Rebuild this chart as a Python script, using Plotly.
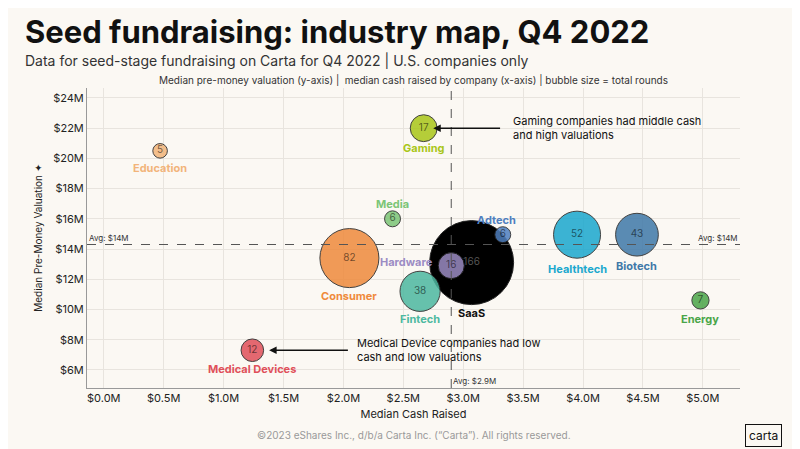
import plotly.graph_objects as go

industries = ["Education", "Gaming", "Media", "Adtech", "Healthtech", "Biotech",
              "Consumer", "Hardware", "SaaS", "Fintech", "Energy", "Medical Devices"]
cash_m = [0.47, 2.67, 2.41, 3.33, 3.95, 4.45, 2.05, 2.90, 3.07, 2.64, 4.98, 1.24]
valuation_m = [20.5, 22.0, 16.0, 14.95, 14.95, 14.95, 13.4, 12.9, 13.1, 11.2, 10.6, 7.3]
rounds = [5, 17, 6, 6, 52, 43, 82, 16, 166, 38, 7, 12]
colors = ["#F2B47A", "#A9C619", "#7CC576", "#4F7FBF", "#1AA8CE", "#3F78A8",
          "#EF8A3C", "#9C8CC4", "#000000", "#4DB8A0", "#4AA548", "#E0505A"]
# label placement: (xshift, yshift) in px
label_pos = {"Education": (0, -17), "Gaming": (0, -20), "Media": (0, 15), "Adtech": (-6, 15),
             "Healthtech": (0, -34), "Biotech": (0, -31), "Consumer": (0, -38),
             "Hardware": (-45, 4), "SaaS": (0, -50), "Fintech": (0, -28),
             "Energy": (0, -19), "Medical Devices": (0, -19)}
avg_val = 14.3
avg_cash = 2.9

bg = "#FBF8F3"
font = "Inter, Roboto, sans-serif"
max_d = 84
plot_h = 300

fig = go.Figure()
# SaaS drawn first so Hardware sits on top
order = [8] + [i for i in range(len(industries)) if i != 8]
fig.add_trace(go.Scatter(
    x=[cash_m[i] for i in order], y=[valuation_m[i] for i in order],
    mode="markers+text",
    text=[str(rounds[i]) for i in order],
    textfont=dict(size=10, family=font, color=["#555555" if i == 8 else "rgba(0,0,0,0.55)" for i in order]),
    textposition="middle center",
    marker=dict(size=[rounds[i] for i in order], sizemode="area",
                sizeref=2 * max(rounds) / max_d ** 2,
                color=[colors[i] for i in order],
                opacity=[1 if i == 8 else 0.85 for i in order],
                line=dict(color="#222222", width=1)),
    hoverinfo="skip", showlegend=False, cliponaxis=False,
))

for name, x, y, c in zip(industries, cash_m, valuation_m, colors):
    dx, dy = label_pos[name]
    fig.add_annotation(x=x, y=y, text=f"<b>{name}</b>",
                       showarrow=False, xshift=dx, yshift=dy,
                       font=dict(size=11, color="#111" if name == "SaaS" else c, family=font))

fig.add_hline(y=avg_val, line=dict(color="#555555", width=1, dash="dash"))
fig.add_vline(x=avg_cash, line=dict(color="#555555", width=1, dash="dash"))
fig.add_annotation(x=0, xref="paper", y=avg_val, text="Avg: $14M", showarrow=False,
                   xanchor="left", yanchor="bottom", font=dict(size=8, color="#333", family=font))
fig.add_annotation(x=1, xref="paper", y=avg_val, text="Avg: $14M", showarrow=False,
                   xanchor="right", yanchor="bottom", font=dict(size=8, color="#333", family=font))
fig.add_annotation(x=avg_cash, y=0, yref="paper", text="Avg: $2.9M", showarrow=False,
                   xanchor="left", yanchor="bottom", font=dict(size=8, color="#333", family=font))

fig.add_annotation(x=2.75, y=22.0, ax=3.32, ay=22.0, axref="x", ayref="y",
                   showarrow=True, arrowhead=2, arrowwidth=1.5, arrowcolor="#111", text="")
fig.add_annotation(x=3.4, y=22.0, text="Gaming companies had middle cash<br>and high valuations",
                   showarrow=False, xanchor="left", align="left",
                   font=dict(size=11, color="#111", family=font))
fig.add_annotation(x=1.38, y=7.3, ax=2.05, ay=7.3, axref="x", ayref="y",
                   showarrow=True, arrowhead=2, arrowwidth=1.5, arrowcolor="#111", text="")
fig.add_annotation(x=2.1, y=7.3, text="Medical Device companies had low<br>cash and low valuations",
                   showarrow=False, xanchor="left", align="left",
                   font=dict(size=11, color="#111", family=font))

fig.add_annotation(x=0.5, xref="paper", y=1.0, yref="paper", yanchor="bottom",
                   text="Median pre-money valuation (y-axis) |  median cash raised by company (x-axis) | bubble size = total rounds",
                   showarrow=False, font=dict(size=10, color="#333", family=font))
# titles
fig.add_annotation(x=-0.098, xref="paper", y=1 + 56 / plot_h, yref="paper", xanchor="left", yanchor="middle",
                   text="<b>Seed fundraising: industry map, Q4 2022</b>", showarrow=False,
                   font=dict(size=31, color="#111", family=font))
fig.add_annotation(x=-0.098, xref="paper", y=1 + 28 / plot_h, yref="paper", xanchor="left", yanchor="middle",
                   text="Data for seed-stage fundraising on Carta for Q4 2022 | U.S. companies only",
                   showarrow=False, font=dict(size=14, color="#333", family=font))
fig.add_annotation(x=0.5, xref="paper", y=-47 / plot_h, yref="paper", yanchor="middle",
                   text="©2023 eShares Inc., d/b/a Carta Inc. (\u201cCarta\u201d). All rights reserved.",
                   showarrow=False, font=dict(size=10, color="#999", family=font))
fig.add_annotation(x=1.065, xref="paper", y=-47 / plot_h, yref="paper", yanchor="middle", text="carta",
                   showarrow=False, bordercolor="#111", borderwidth=1, borderpad=3,
                   font=dict(size=12, color="#111", family=font))

fig.update_layout(
    width=792, height=441,
    paper_bgcolor=bg, plot_bgcolor=bg,
    margin=dict(l=79, r=60, t=80, b=61),
    xaxis=dict(range=[-0.14, 5.31], tickvals=[i * 0.5 for i in range(11)],
               ticktext=[f"${i * 0.5:.1f}M" for i in range(11)],
               showgrid=True, gridcolor="#E8E4DE", zeroline=False,
               showline=True, linecolor="#999",
               title=dict(text="Median Cash Raised", font=dict(size=11, family=font, color="#222"), standoff=6),
               tickfont=dict(size=11, family=font, color="#222")),
    yaxis=dict(range=[4.8, 24.66], tickvals=list(range(6, 25, 2)),
               ticktext=[f"${v}M" for v in range(6, 25, 2)],
               showgrid=True, gridcolor="#E8E4DE", zeroline=False,
               showline=True, linecolor="#999",
               title=dict(text="Median Pre-Money Valuation \u2726", font=dict(size=10, family=font, color="#222"), standoff=8),
               tickfont=dict(size=11, family=font, color="#222")),
)

fig.write_html("out.html")
